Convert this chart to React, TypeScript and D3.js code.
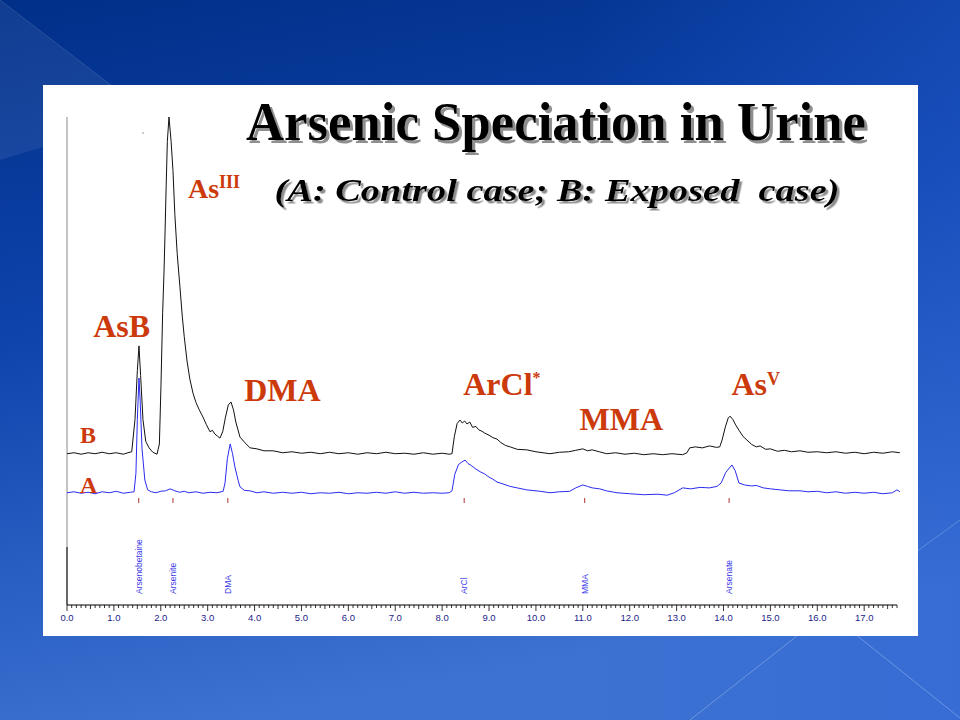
import React from "react";
import * as d3 from "d3";

// ---- data ----
const traceB: [number, number][] = [
  [0.0, 31.0], [0.15, 31.2], [0.3, 30.9], [0.45, 31.2], [0.6, 31.0], [0.75, 31.3], [0.9, 31.0], [1.05, 31.2],
  [1.2, 30.9], [1.3, 31.2], [1.38, 31.4], [1.45, 38], [1.5, 48], [1.535, 53.1], [1.57, 47], [1.62, 38],
  [1.68, 33.5], [1.75, 32.2], [1.83, 31.3], [1.92, 30.9], [1.97, 33], [2.004, 45], [2.04, 60], [2.068, 68],
  [2.09, 76], [2.115, 86], [2.14, 95], [2.175, 100], [2.22, 95], [2.26, 89], [2.3, 80], [2.35, 72],
  [2.41, 65], [2.46, 59], [2.5, 55], [2.56, 50], [2.62, 46.3], [2.687, 43.4],
  [2.75, 41.5], [2.82, 40], [2.9, 38.5], [2.97, 37], [3.049, 35.5], [3.1, 35.8], [3.156, 35.0], [3.21, 34.6],
  [3.262, 34.2], [3.32, 35.5], [3.38, 38.5], [3.44, 41], [3.497, 41.6], [3.55, 40], [3.6, 37.5], [3.689, 34.4],
  [3.8, 33.2], [3.902, 32.2], [4.05, 32.0], [4.2, 31.6], [4.392, 31.6], [4.6, 31.2], [4.8, 31.4], [5.0, 31.1],
  [5.2, 31.3], [5.4, 31.0], [5.6, 31.3], [5.8, 31.0], [6.0, 31.2], [6.2, 30.9], [6.4, 31.2], [6.6, 31.0],
  [6.8, 31.3], [7.0, 31.0], [7.2, 31.1], [7.4, 30.9], [7.6, 31.2], [7.8, 30.9], [8.0, 31.1], [8.15, 30.9],
  [8.21, 31.0], [8.26, 34.5], [8.32, 37.2], [8.38, 37.9], [8.43, 37.3], [8.48, 37.7], [8.53, 37.1], [8.59, 37.5],
  [8.65, 36.4], [8.72, 36.6], [8.78, 35.9], [8.85, 35.6], [8.91, 35.2], [9.0, 34.8], [9.08, 34.3], [9.17, 34.0],
  [9.25, 33.3], [9.35, 32.7], [9.45, 32.4], [9.6, 31.9], [9.8, 31.8], [10.0, 31.4], [10.3, 31.0], [10.5, 31.3],
  [10.7, 31.4], [10.85, 31.7], [11.0, 32.0], [11.1, 31.6], [11.2, 31.8], [11.35, 31.4], [11.51, 31.0], [11.7, 31.2],
  [11.9, 30.9], [12.1, 31.1], [12.3, 30.8], [12.5, 31.0], [12.7, 30.8], [12.9, 31.0], [13.13, 30.8], [13.22, 31.2],
  [13.28, 32.2], [13.4, 32.4], [13.55, 32.2], [13.7, 32.6], [13.85, 32.3], [13.92, 32.4], [13.97, 33.8], [14.04, 36.5],
  [14.1, 38.3], [14.14, 38.7], [14.2, 38.0], [14.26, 36.9], [14.33, 35.8], [14.42, 34.5], [14.5, 33.8], [14.6, 32.9],
  [14.7, 32.4], [14.78, 32.6], [14.9, 31.9], [15.0, 32.0], [15.15, 31.5], [15.3, 31.7], [15.45, 31.4], [15.63, 31.6],
  [15.8, 31.3], [16.0, 31.4], [16.2, 31.2], [16.4, 31.4], [16.6, 31.1], [16.8, 31.3], [17.0, 31.0], [17.2, 31.3],
  [17.4, 31.1], [17.6, 31.4], [17.76, 31.2],
];

const traceA: [number, number][] = [
  [0.0, 23.0], [0.15, 23.2], [0.3, 22.9], [0.45, 23.1], [0.6, 22.8], [0.75, 23.2], [0.9, 23.0], [1.05, 23.3],
  [1.2, 22.9], [1.35, 23.1], [1.43, 23.2], [1.47, 27], [1.5, 38], [1.535, 46.5], [1.56, 42], [1.6, 32],
  [1.66, 25.6], [1.72, 23.6], [1.8, 23.2], [1.9, 23.0], [2.0, 23.3], [2.1, 23.4], [2.2, 23.8], [2.3, 23.4],
  [2.4, 23.1], [2.5, 23.3], [2.6, 23.0], [2.75, 23.2], [2.9, 22.9], [3.05, 23.1], [3.2, 23.0], [3.33, 23.3],
  [3.37, 25], [3.42, 30], [3.48, 33.0], [3.53, 31], [3.58, 28.3], [3.65, 25.5], [3.69, 24.2], [3.78, 23.5],
  [3.9, 23.4], [4.05, 23.0], [4.2, 23.2], [4.4, 22.9], [4.6, 23.1], [4.8, 22.9], [5.0, 23.1], [5.2, 22.8],
  [5.4, 23.0], [5.6, 22.9], [5.8, 23.1], [6.0, 22.8], [6.2, 23.0], [6.4, 22.9], [6.6, 23.1], [6.8, 22.9],
  [7.0, 23.2], [7.2, 22.9], [7.4, 23.1], [7.6, 22.9], [7.8, 23.0], [8.0, 22.9], [8.15, 23.0], [8.21, 23.4],
  [8.27, 26.8], [8.35, 28.8], [8.42, 29.3], [8.49, 29.7], [8.55, 29.0], [8.62, 28.6], [8.7, 28.0], [8.81, 27.3],
  [8.9, 26.9], [9.0, 26.2], [9.08, 25.8], [9.17, 25.2], [9.3, 24.8], [9.45, 24.3], [9.6, 24.0], [9.8, 23.6],
  [10.09, 23.3], [10.3, 23.0], [10.5, 23.2], [10.72, 23.3], [10.85, 24.0], [11.0, 24.6], [11.1, 24.3], [11.2, 24.0],
  [11.36, 23.8], [11.5, 23.4], [11.73, 23.0], [12.0, 22.8], [12.3, 22.6], [12.6, 22.7], [12.8, 22.5], [12.95, 23.0],
  [13.13, 24.0], [13.3, 23.8], [13.5, 24.1], [13.7, 24.0], [13.86, 24.3], [13.95, 25.0], [14.05, 27.2], [14.18, 28.7],
  [14.25, 27.5], [14.33, 25.0], [14.45, 24.6], [14.6, 24.4], [14.7, 24.5], [14.85, 24.0], [15.0, 23.8], [15.2, 23.6],
  [15.4, 23.4], [15.63, 23.4], [15.8, 23.2], [16.0, 23.3], [16.2, 23.0], [16.4, 23.2], [16.6, 22.9], [16.8, 23.1],
  [17.0, 22.9], [17.2, 23.1], [17.4, 22.8], [17.6, 23.0], [17.7, 23.6], [17.76, 23.2],
];

const speciesNames = ["Arsenobetaine", "Arsenite", "DMA", "ArCl", "MMA", "Arsenate"];
const speciesTimes = [1.53, 2.26, 3.43, 8.47, 11.04, 14.12];

const peakLabels = ["AsB", "As", "DMA", "ArCl", "MMA", "As"];
const peakSups = ["", "III", "", "*", "", "V"];
const peakLabelTimes = [0.56, 2.58, 3.78, 8.45, 10.93, 14.17];
const peakLabelValues = [55.0, 83.5, 41.8, 43.0, 35.9, 43.0];

const traceNames = ["B", "A"];
const traceNameValues = [33.1, 23.0];

const title = "Arsenic Speciation in Urine";
const subtitle = "(A: Control case; B: Exposed\u00a0\u00a0case)";

const W = 960;
const H = 720;

export default function App() {
  const x = d3.scaleLinear().domain([0, 17.7]).range([67, 897]);
  const y = d3.scaleLinear().domain([0, 100]).range([605, 117]);
  const line = d3
    .line<[number, number]>()
    .x((d) => x(d[0]))
    .y((d) => y(d[1]))
    .curve(d3.curveLinear);

  const minor = x.ticks(180);
  const major = x.ticks(18).filter((t) => t <= 17);
  const fmt = d3.format(".1f");
  const serif = "'Liberation Serif', 'Times New Roman', serif";
  const sans = "'Liberation Sans', Arial, sans-serif";
  const red = "#cc3a0c";

  return (
    <svg
      width={W}
      height={H}
      viewBox={`0 0 ${W} ${H}`}
      style={{ position: "absolute", left: 0, top: 0, display: "block" }}
    >
      <defs>
        <linearGradient id="bg" x1="0" y1="0" x2="0.25" y2="1">
          <stop offset="0" stopColor="#002f88" />
          <stop offset="0.45" stopColor="#0f44ad" />
          <stop offset="1" stopColor="#3d72d2" />
        </linearGradient>
        <linearGradient id="bgR" x1="0" y1="0" x2="1" y2="0">
          <stop offset="0.6" stopColor="#2a62d8" stopOpacity="0" />
          <stop offset="1" stopColor="#2a62d8" stopOpacity="0.35" />
        </linearGradient>
        <filter id="shadow" x="-5%" y="-20%" width="110%" height="150%">
          <feDropShadow dx="3" dy="3" stdDeviation="0.4" floodColor="#8f8f8f" floodOpacity="1" />
        </filter>
        <filter id="shadow2" x="-5%" y="-20%" width="110%" height="150%">
          <feDropShadow dx="2.5" dy="2.5" stdDeviation="0.4" floodColor="#8f8f8f" floodOpacity="1" />
        </filter>
      </defs>
      <rect x={0} y={0} width={W} height={H} fill="url(#bg)" />
      <rect x={0} y={0} width={W} height={H} fill="url(#bgR)" />
      <polygon points="0,0 150,115 0,160" fill="#ffffff" opacity={0.07} />
      <line x1={0} y1={0} x2={150} y2={115} stroke="#ffffff" strokeOpacity={0.12} />
      <line x1={690} y1={720} x2={830} y2={610} stroke="#9fbcf0" strokeOpacity={0.5} />
      <line x1={825} y1={610} x2={960} y2={718} stroke="#9fbcf0" strokeOpacity={0.5} />
      <line x1={905} y1={560} x2={960} y2={520} stroke="#9fbcf0" strokeOpacity={0.4} />

      {/* white panel */}
      <rect x={43} y={85} width={875} height={551} fill="#ffffff" />

      {/* left axis line */}
      <line x1={67} y1={117} x2={67} y2={547} stroke="#8a8a8a" strokeWidth={1} />
      <line x1={67} y1={547} x2={67} y2={605} stroke="#000000" strokeWidth={1.2} />
      <circle cx={143} cy={133} r={0.8} fill="#888" />

      {/* traces */}
      <path d={line(traceB) || ""} fill="none" stroke="#111111" strokeWidth={1} />
      <path d={line(traceA) || ""} fill="none" stroke="#2b2bef" strokeWidth={1} />

      {/* species markers and labels */}
      {speciesTimes.map((t, i) => (
        <g key={"sp" + i}>
          <line x1={x(t)} x2={x(t)} y1={498} y2={503} stroke="#b03030" strokeWidth={1} />
          <text
            transform={`translate(${x(t) + 3},594) rotate(-90)`}
            fontFamily={sans}
            fontSize={8.5}
            fill="#3a3ae6"
          >
            {speciesNames[i]}
          </text>
        </g>
      ))}

      {/* x axis */}
      <line x1={x(0)} x2={x(17.7)} y1={605} y2={605} stroke="#000" strokeWidth={1} />
      {minor.map((t, i) => {
        const isMajor = Math.abs(t - Math.round(t)) < 1e-6;
        const isHalf = !isMajor && Math.abs(t * 2 - Math.round(t * 2)) < 1e-6;
        const len = isMajor ? 6 : isHalf ? 4 : 3;
        return (
          <line key={"t" + i} x1={x(t)} x2={x(t)} y1={605} y2={605 + len} stroke="#000" strokeWidth={0.8} />
        );
      })}
      {major.map((t, i) => (
        <text
          key={"l" + i}
          x={x(t)}
          y={621}
          textAnchor="middle"
          fontFamily={sans}
          fontSize={9.5}
          fill="#1c1c8a"
        >
          {fmt(t)}
        </text>
      ))}

      {/* title */}
      <text x={556} y={140} textAnchor="middle" fontFamily={serif} fontWeight="bold" fontSize={54} fill="#000" textLength={620} lengthAdjust="spacingAndGlyphs" filter="url(#shadow)">
        {title}
      </text>
      <text x={557} y={201} textAnchor="middle" fontFamily={serif} fontWeight="bold" fontStyle="italic" fontSize={31} fill="#000" textLength={565} lengthAdjust="spacingAndGlyphs" filter="url(#shadow2)">
        {subtitle}
      </text>

      {/* peak labels */}
      {peakLabels.map((lab, i) => (
        <text
          key={"p" + i}
          x={x(peakLabelTimes[i])}
          y={y(peakLabelValues[i])}
          fontFamily={serif}
          fontWeight="bold"
          fontSize={i === 1 ? 28 : 32}
          fill={red}
        >
          {lab}
          {peakSups[i] ? (
            <tspan dy={i === 3 ? -12 : -10} fontSize={i === 3 ? 16 : 18}>
              {peakSups[i]}
            </tspan>
          ) : null}
        </text>
      ))}

      {/* trace names */}
      {traceNames.map((n, i) => (
        <text
          key={"n" + i}
          x={80}
          y={y(traceNameValues[i])}
          fontFamily={serif}
          fontWeight="bold"
          fontSize={24}
          fill={red}
        >
          {n}
        </text>
      ))}
    </svg>
  );
}
